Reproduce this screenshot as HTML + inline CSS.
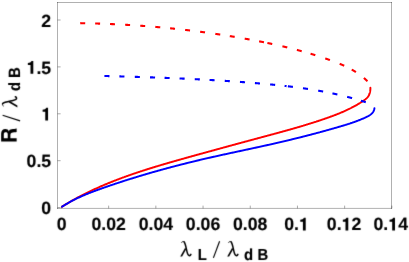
<!DOCTYPE html>
<html><head><meta charset="utf-8"><title>plot</title>
<style>
html,body{margin:0;padding:0;background:#fff;}
svg{display:block;}
text{font-family:"Liberation Sans",sans-serif;fill:#000;text-rendering:geometricPrecision;}
.tk{font-weight:bold;font-size:17.7px;stroke:#000;stroke-width:0.12px;}
.sub{font-weight:bold;font-size:16px;stroke:#000;stroke-width:0.15px;}
.slash{stroke:#000;stroke-width:1.15;stroke-linecap:butt;}
.big{font-weight:bold;font-size:22.6px;stroke:#000;stroke-width:0.15px;}
</style></head><body>
<svg width="409" height="262" viewBox="0 0 409 262">
<rect width="409" height="262" fill="#fff"/>
<g stroke="#000" stroke-opacity="0.31" stroke-width="1"><line x1="57.5" y1="2.0" x2="57.5" y2="208.9"/><line x1="391.5" y1="2.0" x2="391.5" y2="208.9"/><line x1="57.0" y1="2.5" x2="392.0" y2="2.5"/><line x1="57.0" y1="208.4" x2="392.0" y2="208.4"/></g>
<g stroke="#000" stroke-opacity="0.33" stroke-width="1"><line x1="61.45" y1="208.4" x2="61.45" y2="205.60000000000002"/><line x1="108.65" y1="208.4" x2="108.65" y2="205.60000000000002"/><line x1="155.85" y1="208.4" x2="155.85" y2="205.60000000000002"/><line x1="203.05" y1="208.4" x2="203.05" y2="205.60000000000002"/><line x1="250.25" y1="208.4" x2="250.25" y2="205.60000000000002"/><line x1="297.45" y1="208.4" x2="297.45" y2="205.60000000000002"/><line x1="344.65" y1="208.4" x2="344.65" y2="205.60000000000002"/><line x1="391.85" y1="208.4" x2="391.85" y2="205.60000000000002"/><line x1="57.5" y1="207.60" x2="60.6" y2="207.60"/><line x1="57.5" y1="160.70" x2="60.6" y2="160.70"/><line x1="57.5" y1="113.80" x2="60.6" y2="113.80"/><line x1="57.5" y1="66.90" x2="60.6" y2="66.90"/><line x1="57.5" y1="20.00" x2="60.6" y2="20.00"/></g>
<g fill="none" stroke-width="1.95" stroke-linecap="round" stroke-linejoin="round">
<path d="M61.95 206.73 L62.43 206.43 L62.90 206.13 L63.38 205.83 L63.86 205.54 L64.34 205.24 L64.82 204.95 L65.30 204.66 L65.78 204.37 L66.26 204.07 L66.74 203.79 L67.23 203.50 L67.71 203.21 L68.19 202.92 L68.68 202.64 L69.16 202.36 L69.65 202.07 L70.13 201.79 L70.62 201.51 L71.11 201.23 L71.59 200.95 L72.08 200.67 L72.57 200.40 L73.06 200.12 L73.55 199.85 L74.04 199.57 L74.53 199.30 L75.02 199.03 L75.51 198.76 L76.00 198.49 L76.49 198.22 L76.99 197.96 L77.48 197.69 L77.97 197.43 L78.47 197.16 L78.96 196.90 L79.46 196.64 L79.95 196.37 L80.45 196.11 L80.94 195.86 L81.44 195.60 L81.94 195.34 L82.44 195.08 L82.93 194.83 L83.43 194.57 L83.93 194.32 L84.43 194.07 L84.93 193.82 L85.43 193.57 L85.93 193.32 L86.44 193.07 L86.94 192.82 L87.44 192.57 L87.94 192.33 L88.45 192.08 L88.95 191.84 L89.45 191.59 L89.96 191.35 L90.46 191.11 L90.97 190.87 L91.47 190.63 L91.98 190.39 L92.49 190.15 L92.99 189.92 L93.50 189.68 L94.01 189.45 L94.52 189.21 L95.02 188.98 L95.53 188.75 L96.04 188.51 L96.55 188.28 L97.06 188.05 L97.57 187.82 L98.08 187.59 L98.60 187.37 L99.11 187.14 L99.62 186.91 L100.13 186.69 L100.64 186.46 L101.16 186.24 L101.67 186.02 L102.18 185.80 L102.70 185.58 L103.21 185.36 L103.73 185.14 L104.24 184.92 L104.76 184.70 L105.28 184.48 L105.79 184.26 L106.31 184.05 L106.83 183.83 L107.34 183.62 L107.86 183.41 L108.38 183.19 L108.90 182.98 L109.42 182.77 L109.94 182.56 L110.45 182.35 L110.97 182.14 L111.49 181.93 L112.02 181.72 L112.54 181.52 L113.06 181.31 L113.58 181.11 L114.10 180.90 L114.62 180.70 L115.14 180.49 L115.67 180.29 L116.19 180.09 L116.71 179.89 L117.24 179.69 L117.76 179.49 L118.28 179.29 L118.81 179.09 L119.33 178.89 L119.86 178.69 L120.38 178.50 L120.91 178.30 L121.43 178.10 L121.96 177.91 L122.49 177.71 L123.01 177.52 L123.54 177.33 L124.07 177.14 L124.59 176.94 L125.12 176.75 L125.65 176.56 L126.18 176.37 L126.71 176.18 L127.24 175.99 L127.76 175.81 L128.29 175.62 L128.82 175.43 L129.35 175.24 L129.88 175.06 L130.41 174.87 L130.94 174.69 L131.47 174.50 L132.00 174.32 L132.53 174.14 L133.07 173.95 L133.60 173.77 L134.13 173.59 L134.66 173.41 L135.19 173.23 L135.73 173.05 L136.26 172.87 L136.79 172.69 L137.32 172.51 L137.86 172.33 L138.39 172.16 L138.92 171.98 L139.46 171.80 L139.99 171.63 L140.53 171.45 L141.06 171.28 L141.59 171.10 L142.13 170.93 L142.66 170.75 L143.20 170.58 L143.73 170.41 L144.27 170.23 L144.81 170.06 L145.34 169.89 L145.88 169.72 L146.41 169.55 L146.95 169.38 L147.49 169.21 L148.02 169.04 L148.56 168.87 L149.10 168.70 L149.63 168.53 L150.17 168.37 L150.71 168.20 L151.25 168.03 L151.78 167.87 L152.32 167.70 L152.86 167.53 L153.40 167.37 L153.93 167.20 L154.47 167.04 L155.01 166.87 L155.55 166.71 L156.09 166.55 L156.63 166.38 L157.17 166.22 L157.71 166.06 L158.24 165.90 L158.78 165.73 L159.32 165.57 L159.86 165.41 L160.40 165.25 L160.94 165.09 L161.48 164.93 L162.02 164.77 L162.56 164.61 L163.10 164.45 L163.64 164.29 L164.18 164.13 L164.72 163.97 L165.26 163.82 L165.80 163.66 L166.34 163.50 L166.88 163.34 L167.42 163.19 L167.97 163.03 L168.51 162.87 L169.05 162.71 L169.59 162.56 L170.13 162.40 L170.67 162.25 L171.21 162.09 L171.75 161.94 L172.29 161.78 L172.83 161.63 L173.38 161.47 L173.92 161.32 L174.46 161.16 L175.00 161.01 L175.54 160.85 L176.08 160.70 L176.62 160.55 L177.17 160.39 L177.71 160.24 L178.25 160.09 L178.79 159.94 L179.33 159.78 L179.87 159.63 L180.42 159.48 L180.96 159.33 L181.50 159.17 L182.04 159.02 L182.58 158.87 L183.12 158.72 L183.67 158.57 L184.21 158.42 L184.75 158.27 L185.29 158.11 L185.83 157.96 L186.38 157.81 L186.92 157.66 L187.46 157.51 L188.00 157.36 L188.54 157.21 L189.08 157.06 L189.62 156.91 L190.17 156.76 L190.71 156.61 L191.25 156.46 L191.79 156.31 L192.33 156.16 L192.87 156.01 L193.42 155.86 L193.96 155.71 L194.50 155.56 L195.04 155.41 L195.58 155.26 L196.12 155.11 L196.66 154.96 L197.20 154.81 L197.74 154.66 L198.29 154.51 L198.83 154.36 L199.37 154.21 L199.91 154.06 L200.45 153.92 L200.99 153.77 L201.53 153.62 L202.07 153.47 L202.61 153.32 L203.15 153.17 L203.69 153.02 L204.23 152.87 L204.77 152.72 L205.31 152.57 L205.85 152.42 L206.40 152.28 L206.94 152.13 L207.48 151.98 L208.02 151.83 L208.56 151.68 L209.10 151.53 L209.64 151.38 L210.18 151.24 L210.72 151.09 L211.26 150.94 L211.80 150.79 L212.34 150.64 L212.88 150.49 L213.42 150.35 L213.96 150.20 L214.50 150.05 L215.04 149.90 L215.58 149.75 L216.12 149.60 L216.66 149.46 L217.20 149.31 L217.74 149.16 L218.28 149.01 L218.82 148.86 L219.36 148.72 L219.90 148.57 L220.44 148.42 L220.98 148.27 L221.52 148.13 L222.06 147.98 L222.60 147.83 L223.14 147.68 L223.68 147.54 L224.22 147.39 L224.76 147.24 L225.30 147.09 L225.84 146.95 L226.38 146.80 L226.92 146.65 L227.46 146.50 L228.00 146.36 L228.54 146.21 L229.08 146.06 L229.62 145.91 L230.16 145.77 L230.70 145.62 L231.24 145.47 L231.78 145.33 L232.32 145.18 L232.86 145.03 L233.40 144.88 L233.95 144.74 L234.49 144.59 L235.03 144.44 L235.57 144.30 L236.11 144.15 L236.65 144.00 L237.19 143.86 L237.73 143.71 L238.27 143.56 L238.81 143.42 L239.35 143.27 L239.89 143.12 L240.43 142.98 L240.97 142.83 L241.51 142.68 L242.05 142.54 L242.59 142.39 L243.13 142.25 L243.67 142.10 L244.21 141.95 L244.76 141.81 L245.30 141.66 L245.84 141.51 L246.38 141.37 L246.92 141.22 L247.46 141.08 L248.00 140.93 L248.54 140.78 L249.08 140.64 L249.62 140.49 L250.17 140.34 L250.71 140.20 L251.25 140.05 L251.79 139.91 L252.33 139.76 L252.87 139.61 L253.41 139.47 L253.96 139.32 L254.50 139.18 L255.04 139.03 L255.58 138.89 L256.12 138.74 L256.66 138.59 L257.21 138.45 L257.75 138.30 L258.29 138.16 L258.83 138.01 L259.37 137.87 L259.92 137.72 L260.46 137.57 L261.00 137.43 L261.54 137.28 L262.08 137.14 L262.63 136.99 L263.17 136.85 L263.71 136.70 L264.25 136.56 L264.80 136.41 L265.34 136.26 L265.88 136.12 L266.42 135.97 L266.97 135.83 L267.51 135.68 L268.05 135.54 L268.60 135.39 L269.14 135.24 L269.68 135.10 L270.22 134.95 L270.77 134.81 L271.31 134.66 L271.85 134.51 L272.39 134.37 L272.94 134.22 L273.48 134.07 L274.02 133.93 L274.57 133.78 L275.11 133.63 L275.65 133.48 L276.19 133.34 L276.74 133.19 L277.28 133.04 L277.82 132.89 L278.36 132.75 L278.91 132.60 L279.45 132.45 L279.99 132.30 L280.54 132.15 L281.08 132.00 L281.62 131.85 L282.16 131.71 L282.70 131.56 L283.25 131.41 L283.79 131.26 L284.33 131.11 L284.87 130.96 L285.42 130.81 L285.96 130.65 L286.50 130.50 L287.04 130.35 L287.58 130.20 L288.13 130.05 L288.67 129.90 L289.21 129.74 L289.75 129.59 L290.29 129.44 L290.83 129.28 L291.37 129.13 L291.92 128.98 L292.46 128.82 L293.00 128.67 L293.54 128.51 L294.08 128.36 L294.62 128.20 L295.16 128.05 L295.70 127.89 L296.24 127.73 L296.78 127.58 L297.32 127.42 L297.86 127.26 L298.40 127.10 L298.94 126.95 L299.48 126.79 L300.02 126.63 L300.56 126.47 L301.10 126.31 L301.64 126.15 L302.18 125.99 L302.72 125.83 L303.26 125.67 L303.79 125.50 L304.33 125.34 L304.87 125.18 L305.41 125.01 L305.95 124.85 L306.48 124.69 L307.02 124.52 L307.56 124.36 L308.10 124.19 L308.63 124.02 L309.17 123.86 L309.71 123.69 L310.24 123.52 L310.78 123.36 L311.32 123.19 L311.85 123.02 L312.39 122.85 L312.93 122.68 L313.46 122.51 L314.00 122.34 L314.53 122.16 L315.07 121.99 L315.60 121.82 L316.14 121.65 L316.67 121.47 L317.20 121.30 L317.74 121.12 L318.27 120.95 L318.81 120.77 L319.34 120.59 L319.87 120.42 L320.40 120.24 L320.94 120.06 L321.47 119.88 L322.00 119.70 L322.53 119.52 L323.06 119.34 L323.60 119.16 L324.13 118.97 L324.66 118.79 L325.19 118.61 L325.72 118.42 L326.25 118.24 L326.78 118.05 L327.31 117.87 L327.84 117.68 L328.37 117.49 L328.90 117.30 L329.43 117.11 L329.95 116.92 L330.48 116.73 L331.01 116.54 L331.54 116.35 L332.06 116.15 L332.59 115.96 L333.11 115.76 L333.64 115.56 L334.16 115.37 L334.69 115.17 L335.21 114.97 L335.74 114.76 L336.26 114.56 L336.78 114.36 L337.30 114.15 L337.82 113.95 L338.34 113.74 L338.86 113.53 L339.38 113.32 L339.90 113.10 L340.42 112.89 L340.94 112.67 L341.45 112.46 L341.97 112.24 L342.48 112.02 L343.00 111.80 L343.51 111.57 L344.02 111.35 L344.54 111.12 L345.05 110.89 L345.56 110.66 L346.07 110.43 L346.57 110.20 L347.08 109.96 L347.59 109.72 L348.09 109.48 L348.60 109.24 L349.10 108.99 L349.61 108.75 L350.11 108.50 L350.61 108.25 L351.11 108.00 L351.61 107.74 L352.10 107.48 L352.60 107.22 L353.10 106.96 L353.59 106.70 L354.08 106.43 L354.58 106.16 L355.07 105.89 L355.56 105.62 L356.05 105.34 L356.53 105.06 L357.02 104.78 L357.50 104.50 L357.99 104.21 L358.47 103.92 L358.95 103.63 L359.43 103.33 L359.91 103.04 L360.39 102.74 L360.86 102.43 L361.34 102.13 L361.81 101.82 L362.28 101.51 L362.75 101.19 L363.22 100.87 L363.69 100.55 L364.15 100.22 L364.61 99.89 L365.06 99.55 L365.50 99.20 L365.92 98.85 L366.34 98.48 L366.74 98.10 L367.13 97.70 L367.50 97.29 L367.85 96.87 L368.18 96.43 L368.49 95.97 L368.77 95.49 L369.03 94.99 L369.26 94.48 L369.47 93.94 L369.65 93.40 L369.81 92.84 L369.95 92.28 L370.07 91.71 L370.17 91.14 L370.25 90.57 L370.32 90.00 L370.36 89.44 L370.39 88.88 L370.40 88.33 L370.39 87.80" stroke="#ff0000"/>
<path d="M80.24 23.16 L80.49 23.17 L80.74 23.17 L80.99 23.17 L81.24 23.18 L81.49 23.18 L81.74 23.18 L81.98 23.19 L82.23 23.19 L82.48 23.20 L82.73 23.20 L82.98 23.21 L83.23 23.21 L83.48 23.21 L83.72 23.22 L83.97 23.22 L84.22 23.23 L84.47 23.23 L84.72 23.24 L84.97 23.24 L85.21 23.25 M95.15 23.49 L95.40 23.49 L95.64 23.50 L95.89 23.51 L96.14 23.51 L96.39 23.52 L96.64 23.53 L96.89 23.54 L97.13 23.54 L97.38 23.55 L97.63 23.56 L97.88 23.57 L98.13 23.58 L98.37 23.58 L98.62 23.59 L98.87 23.60 L99.12 23.61 L99.37 23.61 L99.62 23.62 L99.86 23.63 L100.11 23.64 M110.03 24.01 L110.28 24.02 L110.53 24.03 L110.78 24.05 L111.02 24.06 L111.27 24.07 L111.52 24.08 L111.77 24.09 L112.02 24.10 L112.26 24.11 L112.51 24.12 L112.76 24.13 L113.01 24.14 L113.25 24.15 L113.50 24.17 L113.75 24.18 L114.00 24.19 L114.25 24.20 L114.49 24.21 L114.74 24.22 L114.99 24.23 M125.14 24.76 L125.39 24.77 L125.64 24.79 L125.89 24.80 L126.13 24.82 L126.38 24.83 L126.63 24.85 L126.88 24.86 L127.12 24.87 L127.37 24.89 L127.62 24.90 L127.87 24.92 L128.11 24.93 L128.36 24.95 L128.61 24.96 L128.86 24.98 L129.10 24.99 L129.35 25.01 L129.60 25.02 L129.85 25.04 L130.09 25.05 M140.23 25.72 L140.48 25.74 L140.73 25.76 L140.98 25.77 L141.22 25.79 L141.47 25.81 L141.72 25.83 L141.96 25.85 L142.21 25.86 L142.46 25.88 L142.71 25.90 L142.95 25.92 L143.20 25.94 L143.45 25.95 L143.69 25.97 L143.94 25.99 L144.19 26.01 L144.44 26.03 L144.68 26.05 L144.93 26.07 L145.18 26.08 M155.30 26.90 L155.55 26.92 L155.80 26.94 L156.04 26.96 L156.29 26.99 L156.54 27.01 L156.78 27.03 L157.03 27.05 L157.28 27.07 L157.52 27.09 L157.77 27.12 L158.02 27.14 L158.26 27.16 L158.51 27.18 L158.76 27.20 L159.00 27.22 L159.25 27.25 L159.50 27.27 L159.74 27.29 L159.99 27.31 L160.24 27.34 M170.10 28.28 L170.35 28.30 L170.59 28.33 L170.84 28.35 L171.09 28.38 L171.33 28.40 L171.58 28.43 L171.83 28.45 L172.07 28.48 L172.32 28.50 L172.56 28.53 L172.81 28.55 L173.06 28.58 L173.30 28.60 L173.55 28.63 L173.80 28.65 L174.04 28.68 L174.29 28.71 L174.54 28.73 L174.78 28.76 L175.03 28.78 M185.12 29.90 L185.37 29.93 L185.61 29.95 L185.86 29.98 L186.11 30.01 L186.35 30.04 L186.60 30.07 L186.84 30.10 L187.09 30.13 L187.34 30.15 L187.58 30.18 L187.83 30.21 L188.07 30.24 L188.32 30.27 L188.57 30.30 L188.81 30.33 L189.06 30.36 L189.30 30.39 L189.55 30.42 L189.80 30.45 L190.04 30.48 M200.12 31.74 L200.36 31.78 L200.61 31.81 L200.86 31.84 L201.10 31.87 L201.35 31.90 L201.59 31.94 L201.84 31.97 L202.08 32.00 L202.33 32.03 L202.57 32.07 L202.82 32.10 L203.07 32.13 L203.31 32.17 L203.56 32.20 L203.80 32.23 L204.05 32.27 L204.29 32.30 L204.54 32.33 L204.78 32.36 L205.03 32.40 M215.34 33.85 L215.58 33.89 L215.83 33.93 L216.07 33.96 L216.32 34.00 L216.56 34.04 L216.81 34.07 L217.05 34.11 L217.30 34.14 L217.54 34.18 L217.79 34.22 L218.03 34.25 L218.28 34.29 L218.52 34.33 L218.77 34.36 L219.01 34.40 L219.26 34.44 L219.50 34.48 L219.75 34.51 L219.99 34.55 L220.24 34.59 M229.79 36.09 L230.03 36.13 L230.28 36.17 L230.52 36.21 L230.77 36.25 L231.01 36.29 L231.26 36.33 L231.50 36.37 L231.75 36.41 L231.99 36.45 L232.24 36.49 L232.48 36.53 L232.73 36.57 L232.97 36.61 L233.22 36.65 L233.46 36.69 L233.71 36.73 L233.95 36.77 L234.19 36.81 L234.44 36.85 L234.68 36.89 M244.71 38.63 L244.95 38.67 L245.20 38.71 L245.44 38.76 L245.69 38.80 L245.93 38.84 L246.17 38.89 L246.42 38.93 L246.66 38.98 L246.91 39.02 L247.15 39.06 L247.40 39.11 L247.64 39.15 L247.88 39.20 L248.13 39.24 L248.37 39.29 L248.62 39.33 L248.86 39.37 L249.10 39.42 L249.35 39.46 L249.59 39.51 M259.11 41.31 L259.35 41.36 L259.60 41.41 L259.84 41.46 L260.08 41.50 L260.33 41.55 L260.57 41.60 L260.81 41.65 L261.06 41.70 L261.30 41.74 L261.54 41.79 L261.79 41.84 L262.03 41.89 L262.28 41.94 L262.52 41.99 L262.76 42.04 L263.01 42.08 L263.25 42.13 L263.49 42.18 L263.74 42.23 L263.98 42.28 M267.39 42.98 L267.63 43.03 L267.87 43.08 L268.12 43.13 L268.36 43.18 L268.60 43.23 L268.85 43.28 L269.09 43.34 L269.33 43.39 L269.58 43.44 L269.82 43.49 L270.06 43.54 L270.30 43.59 L270.55 43.64 L270.79 43.70 L271.03 43.75 L271.28 43.80 L271.52 43.85 L271.76 43.90 L272.00 43.96 L272.25 44.01 M282.43 46.29 L282.67 46.35 L282.91 46.41 L283.15 46.46 L283.40 46.52 L283.64 46.58 L283.88 46.63 L284.12 46.69 L284.36 46.75 L284.60 46.81 L284.85 46.86 L285.09 46.92 L285.33 46.98 L285.57 47.04 L285.81 47.10 L286.05 47.15 L286.30 47.21 L286.54 47.27 L286.78 47.33 L287.02 47.39 L287.26 47.45 M296.89 49.89 L297.13 49.95 L297.37 50.02 L297.61 50.08 L297.85 50.14 L298.09 50.21 L298.33 50.27 L298.57 50.34 L298.81 50.40 L299.05 50.47 L299.29 50.53 L299.53 50.60 L299.77 50.66 L300.01 50.73 L300.25 50.79 L300.49 50.86 L300.73 50.92 L300.97 50.99 L301.21 51.05 L301.45 51.12 L301.69 51.18 M310.53 53.72 L310.77 53.79 L311.01 53.86 L311.25 53.93 L311.48 54.00 L311.72 54.08 L311.96 54.15 L312.20 54.22 L312.44 54.29 L312.67 54.36 L312.91 54.44 L313.15 54.51 L313.39 54.58 L313.62 54.65 L313.86 54.73 L314.10 54.80 L314.34 54.87 L314.57 54.95 L314.81 55.02 L315.05 55.09 L315.29 55.17 M325.22 58.41 L325.46 58.49 L325.69 58.57 L325.93 58.65 L326.16 58.73 L326.40 58.81 L326.63 58.89 L326.87 58.97 L327.10 59.05 L327.34 59.14 L327.57 59.22 L327.81 59.30 L328.04 59.38 L328.28 59.46 L328.51 59.55 L328.75 59.63 L328.98 59.71 L329.22 59.79 L329.45 59.88 L329.69 59.96 L329.92 60.05 M339.68 63.78 L339.90 63.87 L340.13 63.97 L340.36 64.07 L340.59 64.16 L340.82 64.26 L341.05 64.36 L341.27 64.46 L341.50 64.55 L341.73 64.65 L341.96 64.75 L342.18 64.85 L342.41 64.95 L342.64 65.05 L342.86 65.15 L343.09 65.25 L343.31 65.35 L343.54 65.45 L343.77 65.56 L343.99 65.66 L344.22 65.76 M351.69 69.55 L351.91 69.67 L352.12 69.79 L352.33 69.91 L352.55 70.03 L352.76 70.16 L352.97 70.28 L353.18 70.40 L353.40 70.53 L353.61 70.65 L353.82 70.78 L354.03 70.91 L354.24 71.03 L354.45 71.16 L354.66 71.29 L354.87 71.42 L355.08 71.55 L355.29 71.68 L355.49 71.81 L355.70 71.94 L355.91 72.07 M363.84 77.92 L364.03 78.09 L364.21 78.25 L364.40 78.41 L364.59 78.58 L364.77 78.74 L364.96 78.91 L365.15 79.07 L365.33 79.24 L365.51 79.41 L365.70 79.58 L365.88 79.75 L366.06 79.92 L366.25 80.09 L366.43 80.26 L366.61 80.44 L366.79 80.61 L366.97 80.79 L367.15 80.96 L367.32 81.14 L367.50 81.32" stroke="#ff0000" stroke-width="2.1" stroke-linecap="butt"/>
<path d="M61.99 206.78 L62.45 206.48 L62.92 206.18 L63.38 205.88 L63.85 205.58 L64.32 205.29 L64.79 205.00 L65.26 204.71 L65.73 204.43 L66.20 204.14 L66.68 203.86 L67.15 203.58 L67.63 203.30 L68.11 203.03 L68.58 202.76 L69.06 202.49 L69.55 202.22 L70.03 201.95 L70.51 201.69 L71.00 201.43 L71.48 201.17 L71.97 200.91 L72.45 200.65 L72.94 200.40 L73.43 200.15 L73.92 199.90 L74.41 199.65 L74.91 199.40 L75.40 199.16 L75.89 198.91 L76.39 198.67 L76.88 198.43 L77.38 198.20 L77.88 197.96 L78.38 197.73 L78.88 197.50 L79.38 197.26 L79.88 197.04 L80.38 196.81 L80.88 196.58 L81.39 196.36 L81.89 196.14 L82.39 195.91 L82.90 195.69 L83.41 195.48 L83.91 195.26 L84.42 195.04 L84.93 194.83 L85.44 194.62 L85.95 194.40 L86.46 194.19 L86.97 193.98 L87.48 193.78 L87.99 193.57 L88.50 193.36 L89.02 193.16 L89.53 192.96 L90.04 192.75 L90.56 192.55 L91.07 192.35 L91.59 192.15 L92.11 191.96 L92.62 191.76 L93.14 191.56 L93.66 191.37 L94.17 191.17 L94.69 190.98 L95.21 190.79 L95.73 190.59 L96.25 190.40 L96.77 190.21 L97.29 190.02 L97.81 189.83 L98.33 189.65 L98.85 189.46 L99.37 189.27 L99.89 189.09 L100.41 188.90 L100.93 188.71 L101.45 188.53 L101.97 188.35 L102.50 188.16 L103.02 187.98 L103.54 187.80 L104.06 187.61 L104.59 187.43 L105.11 187.25 L105.63 187.07 L106.15 186.89 L106.68 186.71 L107.20 186.53 L107.72 186.35 L108.25 186.17 L108.77 185.99 L109.29 185.81 L109.82 185.63 L110.34 185.45 L110.86 185.28 L111.39 185.10 L111.91 184.92 L112.43 184.74 L112.96 184.57 L113.48 184.39 L114.01 184.22 L114.53 184.04 L115.06 183.87 L115.58 183.69 L116.10 183.52 L116.63 183.34 L117.15 183.17 L117.68 183.00 L118.20 182.82 L118.73 182.65 L119.25 182.48 L119.78 182.31 L120.30 182.13 L120.83 181.96 L121.35 181.79 L121.88 181.62 L122.41 181.45 L122.93 181.28 L123.46 181.11 L123.98 180.94 L124.51 180.77 L125.04 180.61 L125.56 180.44 L126.09 180.27 L126.61 180.10 L127.14 179.94 L127.67 179.77 L128.19 179.60 L128.72 179.44 L129.25 179.27 L129.77 179.10 L130.30 178.94 L130.83 178.77 L131.36 178.61 L131.88 178.45 L132.41 178.28 L132.94 178.12 L133.47 177.96 L133.99 177.79 L134.52 177.63 L135.05 177.47 L135.58 177.31 L136.10 177.14 L136.63 176.98 L137.16 176.82 L137.69 176.66 L138.22 176.50 L138.75 176.34 L139.27 176.18 L139.80 176.02 L140.33 175.86 L140.86 175.70 L141.39 175.55 L141.92 175.39 L142.45 175.23 L142.98 175.07 L143.50 174.92 L144.03 174.76 L144.56 174.60 L145.09 174.45 L145.62 174.29 L146.15 174.13 L146.68 173.98 L147.21 173.82 L147.74 173.67 L148.27 173.51 L148.80 173.36 L149.33 173.21 L149.86 173.05 L150.39 172.90 L150.92 172.75 L151.45 172.60 L151.98 172.44 L152.51 172.29 L153.04 172.14 L153.57 171.99 L154.10 171.84 L154.64 171.69 L155.17 171.54 L155.70 171.39 L156.23 171.24 L156.76 171.09 L157.29 170.94 L157.82 170.79 L158.35 170.64 L158.89 170.49 L159.42 170.34 L159.95 170.20 L160.48 170.05 L161.01 169.90 L161.54 169.76 L162.08 169.61 L162.61 169.46 L163.14 169.32 L163.67 169.17 L164.20 169.03 L164.74 168.88 L165.27 168.74 L165.80 168.59 L166.33 168.45 L166.87 168.30 L167.40 168.16 L167.93 168.02 L168.47 167.87 L169.00 167.73 L169.53 167.59 L170.06 167.45 L170.60 167.30 L171.13 167.16 L171.66 167.02 L172.20 166.88 L172.73 166.74 L173.27 166.60 L173.80 166.46 L174.33 166.32 L174.87 166.18 L175.40 166.04 L175.93 165.90 L176.47 165.76 L177.00 165.62 L177.54 165.49 L178.07 165.35 L178.61 165.21 L179.14 165.07 L179.67 164.94 L180.21 164.80 L180.74 164.66 L181.28 164.53 L181.81 164.39 L182.35 164.25 L182.88 164.12 L183.42 163.98 L183.95 163.85 L184.49 163.71 L185.02 163.58 L185.56 163.44 L186.09 163.31 L186.63 163.18 L187.16 163.04 L187.70 162.91 L188.24 162.78 L188.77 162.65 L189.31 162.51 L189.84 162.38 L190.38 162.25 L190.91 162.12 L191.45 161.99 L191.99 161.86 L192.52 161.73 L193.06 161.59 L193.60 161.46 L194.13 161.33 L194.67 161.20 L195.21 161.08 L195.74 160.95 L196.28 160.82 L196.81 160.69 L197.35 160.56 L197.89 160.43 L198.43 160.30 L198.96 160.18 L199.50 160.05 L200.04 159.92 L200.57 159.80 L201.11 159.67 L201.65 159.54 L202.19 159.42 L202.72 159.29 L203.26 159.16 L203.80 159.04 L204.34 158.91 L204.87 158.79 L205.41 158.66 L205.95 158.54 L206.49 158.42 L207.03 158.29 L207.56 158.17 L208.10 158.05 L208.64 157.92 L209.18 157.80 L209.72 157.68 L210.25 157.55 L210.79 157.43 L211.33 157.31 L211.87 157.19 L212.41 157.07 L212.95 156.94 L213.49 156.82 L214.02 156.70 L214.56 156.58 L215.10 156.46 L215.64 156.34 L216.18 156.22 L216.72 156.10 L217.26 155.98 L217.80 155.86 L218.34 155.74 L218.88 155.62 L219.41 155.50 L219.95 155.38 L220.49 155.26 L221.03 155.15 L221.57 155.03 L222.11 154.91 L222.65 154.79 L223.19 154.67 L223.73 154.55 L224.27 154.44 L224.81 154.32 L225.35 154.20 L225.89 154.08 L226.43 153.96 L226.97 153.85 L227.51 153.73 L228.05 153.61 L228.59 153.50 L229.13 153.38 L229.67 153.26 L230.21 153.14 L230.75 153.03 L231.29 152.91 L231.83 152.79 L232.37 152.68 L232.91 152.56 L233.45 152.45 L233.99 152.33 L234.53 152.21 L235.07 152.10 L235.61 151.98 L236.15 151.86 L236.69 151.75 L237.23 151.63 L237.77 151.52 L238.31 151.40 L238.85 151.28 L239.39 151.17 L239.93 151.05 L240.47 150.94 L241.01 150.82 L241.55 150.70 L242.09 150.59 L242.63 150.47 L243.17 150.36 L243.71 150.24 L244.25 150.12 L244.79 150.01 L245.33 149.89 L245.87 149.78 L246.41 149.66 L246.95 149.54 L247.49 149.43 L248.03 149.31 L248.57 149.19 L249.11 149.08 L249.65 148.96 L250.19 148.85 L250.73 148.73 L251.27 148.61 L251.81 148.50 L252.35 148.38 L252.89 148.26 L253.43 148.15 L253.97 148.03 L254.51 147.91 L255.05 147.80 L255.59 147.68 L256.13 147.56 L256.67 147.44 L257.21 147.33 L257.75 147.21 L258.29 147.09 L258.83 146.97 L259.37 146.86 L259.91 146.74 L260.45 146.62 L260.99 146.50 L261.53 146.38 L262.07 146.26 L262.61 146.15 L263.15 146.03 L263.69 145.91 L264.23 145.79 L264.77 145.67 L265.31 145.55 L265.85 145.43 L266.39 145.31 L266.93 145.19 L267.47 145.07 L268.01 144.95 L268.55 144.83 L269.09 144.71 L269.63 144.59 L270.16 144.47 L270.70 144.35 L271.24 144.23 L271.78 144.10 L272.32 143.98 L272.86 143.86 L273.40 143.74 L273.94 143.62 L274.48 143.49 L275.02 143.37 L275.55 143.25 L276.09 143.12 L276.63 143.00 L277.17 142.88 L277.71 142.75 L278.25 142.63 L278.79 142.50 L279.32 142.38 L279.86 142.25 L280.40 142.13 L280.94 142.00 L281.48 141.88 L282.02 141.75 L282.55 141.63 L283.09 141.50 L283.63 141.37 L284.17 141.25 L284.71 141.12 L285.24 140.99 L285.78 140.86 L286.32 140.74 L286.86 140.61 L287.39 140.48 L287.93 140.35 L288.47 140.22 L289.01 140.09 L289.54 139.96 L290.08 139.84 L290.62 139.71 L291.15 139.58 L291.69 139.45 L292.23 139.32 L292.76 139.18 L293.30 139.05 L293.84 138.92 L294.37 138.79 L294.91 138.66 L295.45 138.53 L295.98 138.40 L296.52 138.26 L297.06 138.13 L297.59 138.00 L298.13 137.86 L298.66 137.73 L299.20 137.60 L299.74 137.46 L300.27 137.33 L300.81 137.20 L301.34 137.06 L301.88 136.93 L302.41 136.79 L302.95 136.65 L303.49 136.52 L304.02 136.38 L304.56 136.25 L305.09 136.11 L305.63 135.97 L306.16 135.84 L306.70 135.70 L307.23 135.56 L307.77 135.42 L308.30 135.29 L308.83 135.15 L309.37 135.01 L309.90 134.87 L310.44 134.73 L310.97 134.59 L311.51 134.45 L312.04 134.31 L312.57 134.17 L313.11 134.03 L313.64 133.89 L314.17 133.75 L314.71 133.61 L315.24 133.47 L315.77 133.32 L316.31 133.18 L316.84 133.04 L317.37 132.90 L317.91 132.75 L318.44 132.61 L318.97 132.47 L319.50 132.32 L320.04 132.18 L320.57 132.03 L321.10 131.89 L321.63 131.74 L322.17 131.60 L322.70 131.45 L323.23 131.31 L323.76 131.16 L324.29 131.01 L324.82 130.87 L325.36 130.72 L325.89 130.57 L326.42 130.43 L326.95 130.28 L327.48 130.13 L328.01 129.98 L328.54 129.83 L329.07 129.68 L329.60 129.53 L330.13 129.38 L330.67 129.23 L331.20 129.08 L331.73 128.93 L332.26 128.78 L332.79 128.63 L333.32 128.48 L333.85 128.33 L334.37 128.18 L334.90 128.02 L335.43 127.87 L335.96 127.72 L336.49 127.56 L337.02 127.41 L337.55 127.26 L338.08 127.10 L338.61 126.95 L339.14 126.79 L339.66 126.64 L340.19 126.48 L340.72 126.33 L341.25 126.17 L341.78 126.01 L342.30 125.85 L342.83 125.70 L343.36 125.54 L343.89 125.38 L344.41 125.22 L344.94 125.06 L345.47 124.90 L345.99 124.73 L346.52 124.57 L347.04 124.41 L347.57 124.24 L348.09 124.07 L348.62 123.91 L349.14 123.74 L349.66 123.57 L350.19 123.40 L350.71 123.22 L351.23 123.05 L351.75 122.87 L352.28 122.70 L352.80 122.52 L353.32 122.34 L353.84 122.16 L354.36 121.97 L354.88 121.79 L355.39 121.60 L355.91 121.41 L356.43 121.22 L356.95 121.02 L357.46 120.83 L357.98 120.63 L358.49 120.43 L359.01 120.23 L359.52 120.03 L360.03 119.82 L360.55 119.61 L361.06 119.40 L361.57 119.18 L362.08 118.97 L362.59 118.75 L363.10 118.53 L363.60 118.30 L364.11 118.08 L364.62 117.85 L365.12 117.61 L365.63 117.38 L366.13 117.14 L366.63 116.90 L367.13 116.65 L367.63 116.40 L368.12 116.14 L368.60 115.87 L369.07 115.59 L369.54 115.29 L369.99 114.99 L370.43 114.67 L370.86 114.34 L371.28 113.99 L371.68 113.62 L372.06 113.23 L372.42 112.83 L372.76 112.40 L373.08 111.95 L373.37 111.48 L373.63 110.99 L373.87 110.49 L374.07 109.96 L374.23 109.41 L374.35 108.85 L374.44 108.27" stroke="#0000ff"/>
<path d="M104.41 75.98 L104.63 75.98 L104.85 75.99 L105.07 75.99 L105.29 76.00 L105.51 76.01 L105.73 76.01 L105.95 76.02 L106.17 76.02 L106.39 76.03 L106.61 76.04 L106.83 76.04 L107.05 76.05 L107.27 76.05 L107.49 76.06 L107.71 76.07 L107.93 76.07 L108.15 76.08 L108.37 76.08 L108.59 76.09 L108.81 76.09 L109.03 76.10 L109.25 76.11 L109.47 76.11 M119.38 76.39 L119.60 76.39 L119.82 76.40 L120.04 76.40 L120.26 76.41 L120.48 76.42 L120.70 76.42 L120.92 76.43 L121.14 76.43 L121.36 76.44 L121.58 76.45 L121.80 76.45 L122.02 76.46 L122.24 76.47 L122.46 76.47 L122.68 76.48 L122.90 76.48 L123.12 76.49 L123.34 76.50 L123.56 76.50 L123.78 76.51 L124.00 76.52 L124.22 76.52 L124.44 76.53 M134.80 76.84 L135.02 76.84 L135.24 76.85 L135.46 76.86 L135.68 76.86 L135.90 76.87 L136.12 76.88 L136.34 76.88 L136.56 76.89 L136.78 76.90 L137.00 76.90 L137.22 76.91 L137.44 76.92 L137.66 76.92 L137.89 76.93 L138.11 76.94 L138.33 76.95 L138.55 76.95 L138.77 76.96 L138.99 76.97 L139.21 76.97 L139.43 76.98 L139.65 76.99 L139.87 76.99 M150.01 77.33 L150.23 77.33 L150.45 77.34 L150.67 77.35 L150.89 77.36 L151.11 77.36 L151.33 77.37 L151.55 77.38 L151.77 77.39 L151.99 77.39 L152.21 77.40 L152.43 77.41 L152.65 77.42 L152.87 77.42 L153.09 77.43 L153.32 77.44 L153.54 77.45 L153.76 77.46 L153.98 77.46 L154.20 77.47 L154.42 77.48 L154.64 77.49 L154.86 77.49 L155.08 77.50 M164.56 77.85 L164.78 77.86 L165.00 77.87 L165.22 77.88 L165.44 77.88 L165.66 77.89 L165.88 77.90 L166.10 77.91 L166.32 77.92 L166.54 77.93 L166.76 77.93 L166.99 77.94 L167.21 77.95 L167.43 77.96 L167.65 77.97 L167.87 77.98 L168.09 77.99 L168.31 78.00 L168.53 78.00 L168.75 78.01 L168.97 78.02 L169.19 78.03 L169.41 78.04 L169.63 78.05 M179.55 78.46 L179.77 78.47 L180.00 78.48 L180.22 78.49 L180.44 78.50 L180.66 78.51 L180.88 78.52 L181.10 78.53 L181.32 78.54 L181.54 78.55 L181.76 78.56 L181.98 78.56 L182.20 78.57 L182.42 78.58 L182.64 78.59 L182.86 78.60 L183.08 78.61 L183.30 78.62 L183.52 78.63 L183.74 78.64 L183.96 78.65 L184.18 78.66 L184.41 78.67 L184.63 78.68 M194.77 79.16 L194.99 79.17 L195.21 79.18 L195.43 79.20 L195.65 79.21 L195.87 79.22 L196.09 79.23 L196.31 79.24 L196.53 79.25 L196.75 79.26 L196.97 79.27 L197.19 79.28 L197.41 79.29 L197.64 79.31 L197.86 79.32 L198.08 79.33 L198.30 79.34 L198.52 79.35 L198.74 79.36 L198.96 79.37 L199.18 79.38 L199.40 79.40 L199.62 79.41 L199.84 79.42 M209.54 79.94 L209.76 79.95 L209.98 79.97 L210.20 79.98 L210.42 79.99 L210.64 80.00 L210.86 80.02 L211.08 80.03 L211.30 80.04 L211.53 80.05 L211.75 80.07 L211.97 80.08 L212.19 80.09 L212.41 80.10 L212.63 80.12 L212.85 80.13 L213.07 80.14 L213.29 80.16 L213.51 80.17 L213.73 80.18 L213.95 80.19 L214.17 80.21 L214.39 80.22 L214.61 80.23 M224.75 80.86 L224.97 80.87 L225.19 80.88 L225.41 80.90 L225.63 80.91 L225.85 80.93 L226.07 80.94 L226.29 80.95 L226.51 80.97 L226.73 80.98 L226.95 81.00 L227.17 81.01 L227.39 81.03 L227.61 81.04 L227.83 81.06 L228.05 81.07 L228.28 81.08 L228.50 81.10 L228.72 81.11 L228.94 81.13 L229.16 81.14 L229.38 81.16 L229.60 81.17 L229.82 81.19 M239.95 81.90 L240.17 81.91 L240.39 81.93 L240.61 81.95 L240.83 81.96 L241.05 81.98 L241.27 81.99 L241.49 82.01 L241.71 82.03 L241.93 82.04 L242.15 82.06 L242.37 82.08 L242.59 82.09 L242.81 82.11 L243.04 82.13 L243.26 82.14 L243.48 82.16 L243.70 82.17 L243.92 82.19 L244.14 82.21 L244.36 82.22 L244.58 82.24 L244.80 82.26 L245.02 82.28 M254.92 83.06 L255.14 83.08 L255.36 83.10 L255.58 83.12 L255.81 83.14 L256.03 83.15 L256.25 83.17 L256.47 83.19 L256.69 83.21 L256.91 83.23 L257.13 83.25 L257.35 83.26 L257.57 83.28 L257.79 83.30 L258.01 83.32 L258.23 83.34 L258.45 83.36 L258.67 83.38 L258.89 83.40 L259.11 83.41 L259.33 83.43 L259.55 83.45 L259.77 83.47 L259.99 83.49 M270.10 84.41 L270.32 84.43 L270.54 84.45 L270.76 84.47 L270.98 84.49 L271.20 84.51 L271.42 84.53 L271.64 84.55 L271.86 84.57 L272.08 84.60 L272.30 84.62 L272.52 84.64 L272.74 84.66 L272.96 84.68 L273.18 84.70 L273.40 84.72 L273.62 84.75 L273.84 84.77 L274.06 84.79 L274.28 84.81 L274.50 84.83 L274.72 84.86 L274.94 84.88 L275.16 84.90 M284.60 85.90 L284.82 85.93 L285.03 85.95 L285.25 85.98 L285.47 86.00 L285.69 86.03 L285.91 86.05 L286.13 86.08 L286.35 86.10 L286.57 86.13 M287.88 86.28 L288.10 86.31 L288.32 86.33 L288.54 86.36 L288.76 86.38 L288.98 86.41 L289.20 86.44 L289.42 86.46 L289.64 86.49 L289.85 86.52 L290.07 86.54 L290.29 86.57 L290.51 86.59 L290.73 86.62 L290.95 86.65 L291.17 86.67 L291.39 86.70 L291.61 86.73 L291.82 86.75 L292.04 86.78 L292.26 86.81 L292.48 86.84 L292.70 86.86 L292.92 86.89 M302.97 88.23 L303.18 88.26 L303.40 88.30 L303.62 88.33 L303.84 88.36 L304.06 88.39 L304.27 88.42 L304.49 88.45 L304.71 88.48 L304.93 88.52 L305.15 88.55 L305.36 88.58 L305.58 88.61 L305.80 88.64 L306.02 88.68 L306.23 88.71 L306.45 88.74 L306.67 88.77 L306.89 88.81 L307.11 88.84 L307.32 88.87 L307.54 88.91 L307.76 88.94 L307.98 88.97 M318.18 90.64 L318.40 90.68 L318.62 90.72 L318.83 90.75 L319.05 90.79 L319.26 90.83 L319.48 90.87 L319.70 90.91 L319.91 90.95 L320.13 90.99 L320.35 91.02 L320.56 91.06 L320.78 91.10 L321.00 91.14 L321.21 91.18 L321.43 91.22 L321.65 91.26 L321.86 91.30 L322.08 91.34 L322.29 91.38 L322.51 91.42 L322.73 91.46 L322.94 91.50 L323.16 91.54 M332.43 93.39 L332.64 93.43 L332.86 93.48 L333.07 93.52 L333.29 93.57 L333.50 93.61 L333.72 93.66 L333.93 93.71 L334.15 93.75 L334.36 93.80 L334.58 93.85 L334.79 93.89 L335.01 93.94 L335.22 93.99 L335.44 94.03 L335.65 94.08 L335.86 94.13 L336.08 94.18 L336.29 94.22 L336.51 94.27 L336.72 94.32 L336.94 94.37 L337.15 94.42 L337.37 94.46 M347.19 96.83 L347.41 96.89 L347.62 96.94 L347.83 97.00 L348.05 97.05 L348.26 97.11 L348.47 97.16 L348.68 97.22 L348.90 97.27 L349.11 97.33 L349.32 97.39 L349.53 97.44 L349.75 97.50 L349.96 97.55 L350.17 97.61 L350.38 97.67 L350.60 97.72 L350.81 97.78 L351.02 97.84 L351.23 97.90 L351.45 97.95 L351.66 98.01 L351.87 98.07 L352.08 98.13 M360.96 100.69 L361.17 100.76 L361.39 100.82 L361.60 100.89 L361.81 100.95 L362.02 101.02 L362.23 101.08 L362.44 101.15 L362.65 101.22 L362.86 101.28 L363.07 101.35 L363.28 101.41 L363.49 101.48 L363.70 101.55 L363.91 101.61 L364.12 101.68 L364.33 101.75 L364.54 101.81 L364.75 101.88 L364.96 101.95 L365.17 102.02 L365.38 102.08 L365.59 102.15 L365.80 102.22" stroke="#0000ff" stroke-width="2.1" stroke-linecap="butt"/>
</g>
<defs>
<filter id="bl" x="-10%" y="-10%" width="120%" height="120%"><feConvolveMatrix order="3" kernelMatrix="0.0100 0.0800 0.0100 0.0800 0.6400 0.0800 0.0100 0.0800 0.0100" edgeMode="none" preserveAlpha="false"/></filter></defs>
<g class="tk" filter="url(#bl)"><text x="56.68" y="230.40">0</text><text x="91.43" y="230.40">0.02</text><text x="138.63" y="230.40">0.04</text><text x="185.83" y="230.40">0.06</text><text x="233.03" y="230.40">0.08</text><text x="284.25" y="230.40">0.</text><path d="M6.43,-12.2 L6.43,0 L3.75,0 L3.75,-8.4 L1.2,-8.4 L1.2,-10.3 C2.9,-10.3 4.3,-11.0 4.75,-12.2 Z" transform="translate(299.01,230.40) scale(1.041)" stroke="none"/><text x="326.83" y="230.40">0.</text><path d="M6.43,-12.2 L6.43,0 L3.75,0 L3.75,-8.4 L1.2,-8.4 L1.2,-10.3 C2.9,-10.3 4.3,-11.0 4.75,-12.2 Z" transform="translate(341.59,230.40) scale(1.041)" stroke="none"/><text x="351.43" y="230.40">2</text><text x="373.53" y="230.40">0.</text><path d="M6.43,-12.2 L6.43,0 L3.75,0 L3.75,-8.4 L1.2,-8.4 L1.2,-10.3 C2.9,-10.3 4.3,-11.0 4.75,-12.2 Z" transform="translate(388.29,230.40) scale(1.041)" stroke="none"/><text x="398.13" y="230.40">4</text><text x="41.36" y="213.80">0</text><text x="26.60" y="167.10">0.5</text><path d="M6.43,-12.2 L6.43,0 L3.75,0 L3.75,-8.4 L1.2,-8.4 L1.2,-10.3 C2.9,-10.3 4.3,-11.0 4.75,-12.2 Z" transform="translate(41.36,120.40) scale(1.041)" stroke="none"/><path d="M6.43,-12.2 L6.43,0 L3.75,0 L3.75,-8.4 L1.2,-8.4 L1.2,-10.3 C2.9,-10.3 4.3,-11.0 4.75,-12.2 Z" transform="translate(26.60,73.70) scale(1.041)" stroke="none"/><text x="36.44" y="73.70">.5</text><text x="41.36" y="27.00">2</text></g>
<g id="xlabel" filter="url(#bl)">
<g transform="translate(180.1,256.2)">
<path d="M1.5,-13.8 C2.1,-14.8 3.2,-15.1 4.1,-14.3" fill="none" stroke="#000" stroke-width="0.85" stroke-linecap="round"/>
<path d="M3.9,-14.5 C5.4,-12.8 6.0,-8.5 7.0,-4.0 C7.6,-1.5 8.3,-0.4 9.4,-0.5 C10.1,-0.6 10.5,-1.1 10.8,-1.8" fill="none" stroke="#000" stroke-width="1.5" stroke-linecap="round"/>
<path d="M5.2,-8.6 L0.1,0.3 L2.0,0.3 L5.9,-6.6 Z" fill="#000"/>
</g>
<text class="sub" transform="translate(197.8,259.5) scale(0.93,1)">L</text>
<line class="slash" x1="213.4" y1="257.9" x2="219.6" y2="241.2"/>
<g transform="translate(227.1,256.2)">
<path d="M1.5,-13.8 C2.1,-14.8 3.2,-15.1 4.1,-14.3" fill="none" stroke="#000" stroke-width="0.85" stroke-linecap="round"/>
<path d="M3.9,-14.5 C5.4,-12.8 6.0,-8.5 7.0,-4.0 C7.6,-1.5 8.3,-0.4 9.4,-0.5 C10.1,-0.6 10.5,-1.1 10.8,-1.8" fill="none" stroke="#000" stroke-width="1.5" stroke-linecap="round"/>
<path d="M5.2,-8.6 L0.1,0.3 L2.0,0.3 L5.9,-6.6 Z" fill="#000"/>
</g>
<text class="sub" transform="translate(244.0,259.5) scale(0.93,1)">d</text>
<text class="sub" transform="translate(257.5,259.5) scale(0.93,1)">B</text>
</g>
<g id="ylabel" filter="url(#bl)">
<path fill-rule="evenodd" transform="translate(16.65,143.1) rotate(-90) scale(0.0215,-0.0216)" d="M76,0 L76,718 L437,718 C570,718 652,640 652,525 C652,440 612,385 545,362 C612,345 646,300 649,230 C651,150 653,60 674,18 L674,0 L512,0 C499,40 497,110 495,170 C491,255 456,290 370,290 L226,290 L226,0 Z M226,595 L406,595 C470,595 500,560 500,503 C500,445 470,413 406,413 L226,413 Z"/>
<line class="slash" x1="20.1" y1="120.9" x2="2.6" y2="115.2"/>
<g transform="translate(17.1,107.5) rotate(-90)">
<path d="M1.5,-13.8 C2.1,-14.8 3.2,-15.1 4.1,-14.3" fill="none" stroke="#000" stroke-width="0.85" stroke-linecap="round"/>
<path d="M3.9,-14.5 C5.4,-12.8 6.0,-8.5 7.0,-4.0 C7.6,-1.5 8.3,-0.4 9.4,-0.5 C10.1,-0.6 10.5,-1.1 10.8,-1.8" fill="none" stroke="#000" stroke-width="1.5" stroke-linecap="round"/>
<path d="M5.2,-8.6 L0.1,0.3 L2.0,0.3 L5.9,-6.6 Z" fill="#000"/>
</g>
<text class="sub" transform="translate(20.4,90.9) rotate(-90) scale(0.93,1.02)">d</text>
<text class="sub" transform="translate(20.4,78.1) rotate(-90) scale(0.93,1.02)">B</text>
</g>
</svg>
</body></html>
